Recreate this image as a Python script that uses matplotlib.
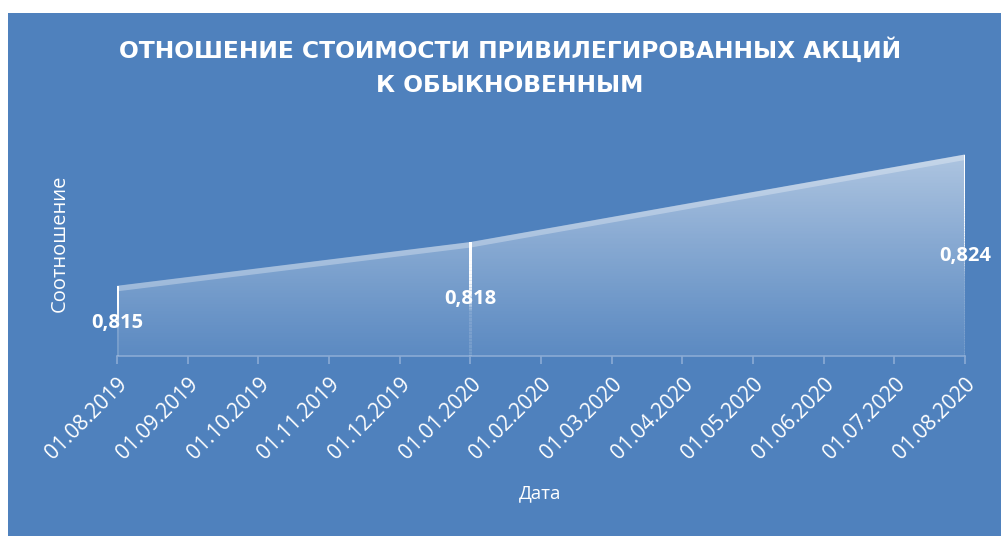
import numpy as np
import pandas as pd
import matplotlib
matplotlib.use('Agg')
import matplotlib.pyplot as plt
from matplotlib.patches import Rectangle, Polygon
from matplotlib.collections import LineCollection

plt.rcParams['font.family'] = ['Open Sans', 'DejaVu Sans']

# Data
dates = ['01.08.2019', '01.01.2020', '01.08.2020']
values = [0.815, 0.818, 0.824]
labels = ['0,815', '0,818', '0,824']
tick_dates = pd.date_range('2019-08-01', '2020-08-01', freq='MS')
tick_labels = [d.strftime('%d.%m.%Y') for d in tick_dates]

bg = '#4F81BD'
start = pd.Timestamp('2019-08-01')

def month_pos(d):
    return (d.year - start.year) * 12 + d.month - start.month

x = np.array([month_pos(pd.to_datetime(d, format='%d.%m.%Y')) for d in dates], dtype=float)
y = np.array(values)
tick_x = [month_pos(d) for d in tick_dates]

fig = plt.figure(figsize=(10.02, 5.36), dpi=100, facecolor='white')
fig.patches.append(Rectangle((8 / 1002, 0), 1 - 9 / 1002, 1 - 13 / 536,
                             transform=fig.transFigure, facecolor=bg,
                             edgecolor='none', zorder=-10))

ax = fig.add_axes([117 / 1002, 1 - 356 / 536, 848 / 1002, 235 / 536])
ax.patch.set_alpha(0)
ymin, ymax = 0.8102, 0.8263
ax.set_xlim(0, 12)
ax.set_ylim(ymin, ymax)

# gradient area fill
grad = np.zeros((256, 2, 4))
t = np.linspace(1, 0, 256)[:, None]
grad[..., :3] = 1.0
grad[..., 3] = 0.08 + 0.55 * t ** 1.1
poly = Polygon(np.column_stack([np.r_[x, x[::-1]], np.r_[y, [ymin] * len(x)]]),
               closed=True, facecolor='none', edgecolor='none')
ax.add_patch(poly)
im = ax.imshow(grad, extent=[0, 12, ymin, ymax], aspect='auto', origin='upper',
               zorder=2, interpolation='bilinear')
im.set_clip_path(poly)

# soft top edge
ax.plot(x, y - 0.00018, color='white', alpha=0.3, lw=4, zorder=3,
        solid_capstyle='butt')

# fading drop lines
for xi, yi in zip(x, y):
    n = 80
    ys = np.linspace(yi, ymin, n + 1)
    segs = [[(xi, ys[i]), (xi, ys[i + 1])] for i in range(n)]
    tt = np.linspace(0, 1, n)
    a = np.clip(1 - (tt / 0.6) ** 2.5, 0, 1) * 0.92 + 0.08
    lc = LineCollection(segs, colors=[(1, 1, 1, min(v, 1)) for v in a],
                        linewidths=2, zorder=4, antialiaseds=False)
    ax.add_collection(lc)

# data labels
offsets = [-37, -57, -101]
for xi, yi, lab, off in zip(x, y, labels, offsets):
    ax.annotate(lab, (xi, yi), xytext=(0, off * 0.72), textcoords='offset points',
                ha='center', va='center', color='white', fontsize=14.5,
                fontweight='bold', zorder=5)

for s in ['top', 'right', 'left']:
    ax.spines[s].set_visible(False)
ax.spines['bottom'].set_color('#8aabd5')
ax.spines['bottom'].set_linewidth(1.2)
ax.set_yticks([])
ax.set_xticks(tick_x)
ax.set_xticklabels(tick_labels, rotation=45, ha='right', va='top',
                   rotation_mode='anchor', color='white', fontsize=15)
ax.tick_params(axis='x', colors='#8aabd5', length=6, width=1.2, pad=7,
               labelcolor='white')

fig.text(540 / 1002, 1 - 493 / 536, 'Дата', color='white', fontsize=13.5,
         ha='center', va='center')
fig.text(60 / 1002, 1 - 243 / 536, 'Соотношение', rotation=90, color='white',
         fontsize=14.5, ha='center', va='center')

fig.text(0.509, 1 - 50 / 536, 'ОТНОШЕНИЕ СТОИМОСТИ ПРИВИЛЕГИРОВАННЫХ АКЦИЙ',
         ha='center', va='center', color='white', fontsize=16.8, fontweight='bold',
         family='DejaVu Sans')
fig.text(0.509, 1 - 85 / 536, 'К ОБЫКНОВЕННЫМ',
         ha='center', va='center', color='white', fontsize=16.8, fontweight='bold',
         family='DejaVu Sans')

fig.savefig('out.png', dpi=100, facecolor='white')
